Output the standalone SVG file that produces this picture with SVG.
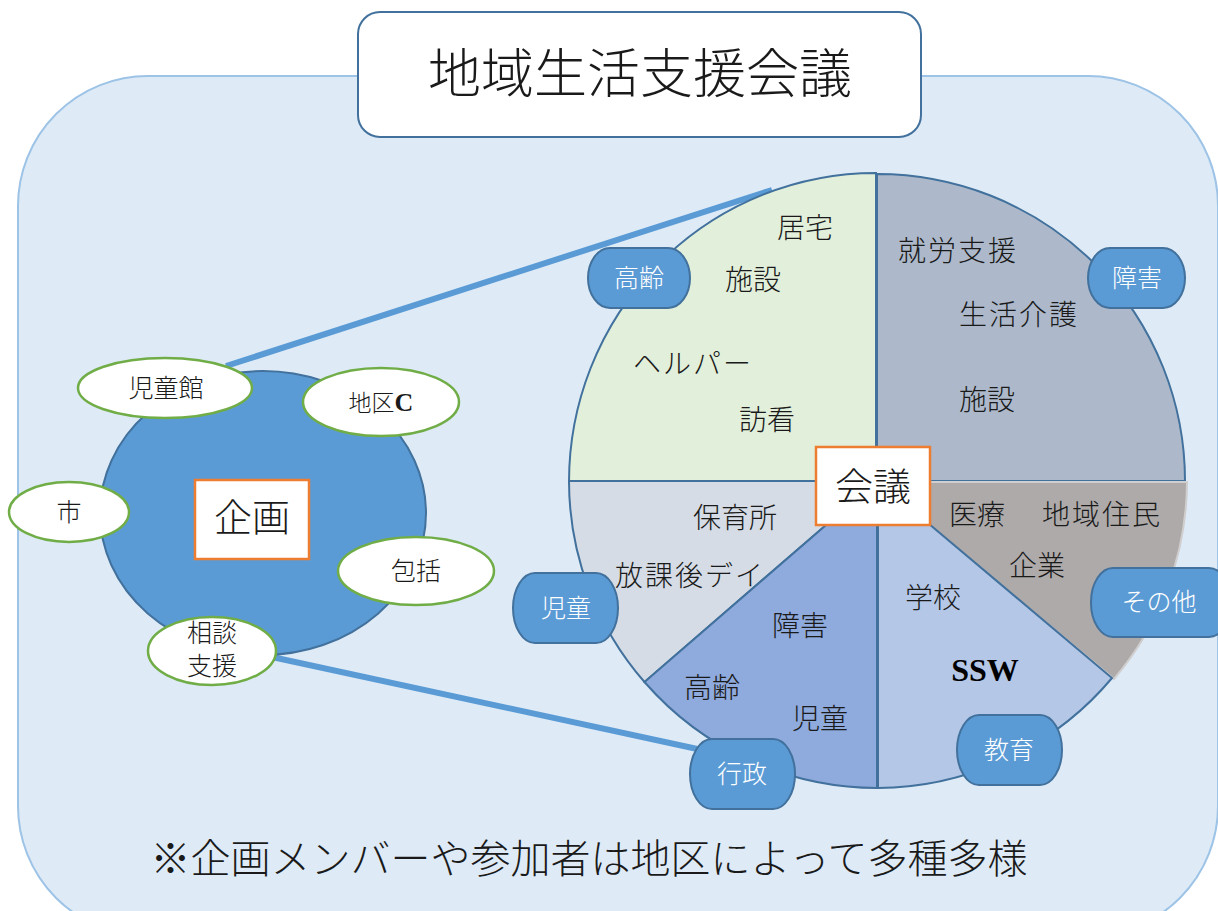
<svg xmlns="http://www.w3.org/2000/svg" width="1218" height="911" viewBox="0 0 1218 911">
<defs>
<style>
.jp{font-family:"Noto Sans CJK JP","Noto Sans",sans-serif;font-weight:300;fill:#1a1a1a;text-anchor:middle}
.tagt{font-family:"Noto Sans CJK JP","Noto Sans",sans-serif;font-weight:300;fill:#ffffff;font-size:25px;text-anchor:middle}
.tag{fill:#5b9bd5;stroke:#41719c;stroke-width:2}
.oval{fill:#ffffff;stroke:#70ad47;stroke-width:2.5}
.obox{fill:#ffffff;stroke:#ed7d31;stroke-width:2.5}
.sl{stroke:#41719c;stroke-width:2}
.pt{font-size:28px}
.conn{stroke:#5b9bd5;stroke-width:6;fill:none}
</style>
</defs>
<rect width="1218" height="911" fill="#ffffff"/>
<rect id="bg" x="18" y="76" width="1200" height="860" rx="130" ry="130" fill="#deebf7" stroke="#9dc3e6" stroke-width="2"/>
<g id="title">
<rect x="358" y="12" width="563" height="125" rx="22" ry="22" fill="#ffffff" stroke="#41719c" stroke-width="2"/>
<text class="jp" x="640" y="93" font-size="53">地域生活支援会議</text>
</g>
<g id="connectors">
<line class="conn" x1="226" y1="366" x2="772" y2="190"/>
<line class="conn" x1="272" y1="657" x2="702" y2="750"/>
</g>
<g id="kikaku">
<ellipse cx="263" cy="513" rx="163" ry="142" fill="#5b9bd5" stroke="#41719c" stroke-width="2"/>
<rect class="obox" x="195" y="480" width="114" height="79"/>
<text class="jp" x="252" y="531" font-size="38">企画</text>
</g>
<g id="jidokan"><ellipse class="oval" cx="165" cy="388" rx="87" ry="30"/><text class="jp" x="166" y="397" font-size="25">児童館</text></g>
<g id="chiku"><ellipse class="oval" cx="381" cy="402" rx="78" ry="34"/><text class="jp" x="381" y="411" font-size="23">地区<tspan font-family="Liberation Serif" font-weight="bold" font-size="26">C</tspan></text></g>
<g id="shi"><ellipse class="oval" cx="69" cy="512" rx="60" ry="30"/><text class="jp" x="69" y="521" font-size="25">市</text></g>
<g id="houkatsu"><ellipse class="oval" cx="416" cy="571" rx="78" ry="34"/><text class="jp" x="416" y="580" font-size="25">包括</text></g>
<g id="soudan"><ellipse class="oval" cx="212" cy="651" rx="64" ry="34"/><text class="jp" x="212" y="642" font-size="25">相談</text><text class="jp" x="212" y="675" font-size="25">支援</text></g>
<g id="pie">
<path class="sl" fill="#adb9ca" d="M877,481 L1185,481 A308,307 0 0,0 877,174 Z"/>
<path class="sl" fill="#e2efda" d="M876,482 L876,173 A307,309 0 0,0 569,482 Z"/>
<path class="sl" fill="#d6dce5" d="M877,481 L569,481 A308,307 0 0,0 644.5,682 Z"/>
<path class="sl" fill="#8faadc" d="M877,481 L644.5,682 A308,307 0 0,0 877,788 Z"/>
<path fill="#aeaaaa" stroke="#d0cece" stroke-width="2" d="M877,482 L1114,679 A308,307 0 0,0 1187,482 Z"/>
<path class="sl" fill="#b4c7e7" d="M878,481 L878,788 A308,307 0 0,0 1112,678 Z"/>
<text class="jp pt" x="805" y="238">居宅</text>
<text class="jp pt" x="753" y="290">施設</text>
<text class="jp pt" x="693" y="374" letter-spacing="2">ヘルパー</text>
<text class="jp pt" x="767" y="430">訪看</text>
<text class="jp pt" x="958" y="261" letter-spacing="2">就労支援</text>
<text class="jp pt" x="1019" y="325" letter-spacing="2">生活介護</text>
<text class="jp pt" x="987" y="410">施設</text>
<text class="jp pt" x="977" y="525">医療</text>
<text class="jp pt" x="1102" y="525" letter-spacing="2">地域住民</text>
<text class="jp pt" x="1037" y="576">企業</text>
<text class="jp pt" x="933" y="608">学校</text>
<text x="985" y="681" font-family="Liberation Serif" font-weight="bold" font-size="32" fill="#000" text-anchor="middle">SSW</text>
<text class="jp pt" x="735" y="528">保育所</text>
<text class="jp pt" x="690" y="586" letter-spacing="2">放課後デイ</text>
<text class="jp pt" x="800" y="636">障害</text>
<text class="jp pt" x="712" y="698">高齢</text>
<text class="jp pt" x="820" y="729">児童</text>
</g>
<g id="tag-koureI"><rect class="tag" x="588" y="248" width="102" height="60" rx="22" ry="30"/><text class="tagt" x="639" y="287">高齢</text></g>
<g id="tag-shougai"><rect class="tag" x="1088" y="248" width="97" height="60" rx="22" ry="30"/><text class="tagt" x="1137" y="287">障害</text></g>
<g id="tag-jidou"><rect class="tag" x="513" y="573" width="105" height="70" rx="22" ry="35"/><text class="tagt" x="566" y="617">児童</text></g>
<g id="tag-gyousei"><rect class="tag" x="690" y="739" width="105" height="70" rx="22" ry="35"/><text class="tagt" x="742" y="783">行政</text></g>
<g id="tag-sonota"><rect class="tag" x="1091" y="568" width="140" height="69" rx="22" ry="34"/><text class="tagt" x="1159" y="611">その他</text></g>
<g id="tag-kyouiku"><rect class="tag" x="957" y="715" width="105" height="70" rx="22" ry="35"/><text class="tagt" x="1009" y="759">教育</text></g>
<g id="kaigi">
<rect class="obox" x="816" y="447" width="114" height="78"/>
<text class="jp" x="873" y="500" font-size="38">会議</text>
</g>
<text id="note" class="jp" x="589" y="873" font-size="40">※企画メンバーや参加者は地区によって多種多様</text>
</svg>
